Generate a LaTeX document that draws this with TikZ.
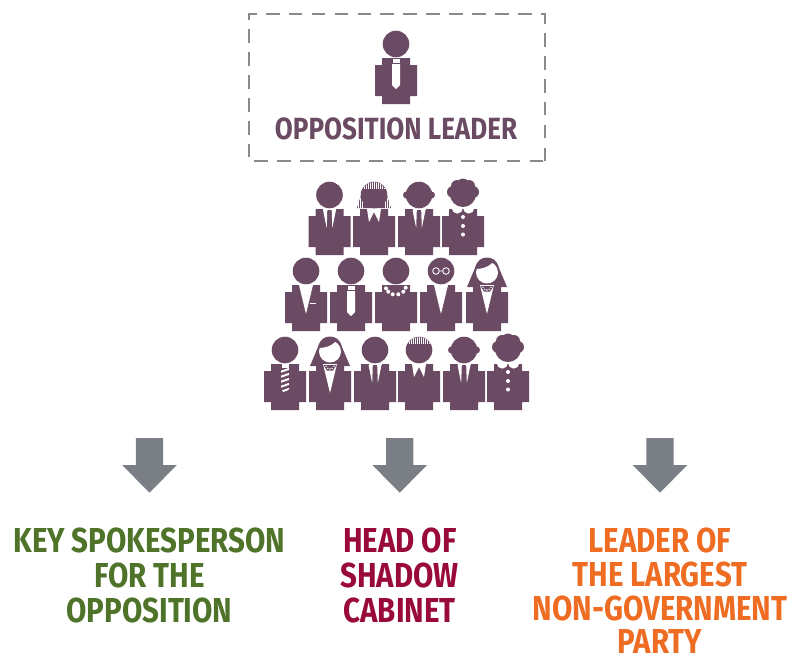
\documentclass[tikz,border=0pt]{standalone}
\usepackage{fontspec}
\newfontfamily\labfont[FakeStretch=0.85]{Fira Sans}
\definecolor{pp}{HTML}{6B4A63}
\definecolor{boxgray}{HTML}{8A8A8A}
\definecolor{arrowgray}{HTML}{7A7F85}
\definecolor{lgreen}{HTML}{4E7329}
\definecolor{lcrimson}{HTML}{990A3B}
\definecolor{lorange}{HTML}{EF6C23}
\tikzset{
  x=0.75pt,y=-0.75pt,
  lab/.style={inner sep=0,align=center,font=\labfont\bfseries\fontsize{26}{26}\selectfont},
  downarrow/.style={fill=arrowgray},
  torso/.pic={\fill[pp] (-14,14) -- (14,14) -- (14,21) -- (21,21) -- (21,52) -- (14,52) -- (14,60) -- (-14,60) -- (-14,52) -- (-21,52) -- (-21,21) -- (-14,21) -- cycle;},
  headc/.pic={\fill[pp] (0,0) circle (13.3);},
  ears/.pic={\fill[pp] (-12.5,0) circle (3.5) (12.5,0) circle (3.5);},
  plaintie/.pic={
    \fill[white] (-3.5,14.5) rectangle (3.5,19);
    \fill[white] (-4,20) -- (4,20) -- (4,41) -- (0,45) -- (-4,41) -- cycle;},
  stripetie/.pic={
    \fill[white] (-3.5,14) rectangle (3.5,17.5);
    \begin{scope}
      \clip (-4,18) -- (4,18) -- (4,39) -- (0,44) -- (-4,39) -- cycle;
      \foreach \yy in {21,26,...,46}{\fill[white] (-5,\yy) -- (5,\yy-3.5) -- (5,\yy-1.4) -- (-5,\yy+2.1) -- cycle;}
    \end{scope}},
  thintie/.pic={
    \fill[white] (-6.5,14) rectangle (6.5,15.3);
    \fill[white] (-6.5,15) -- (-2.2,15) -- (-2.8,33) -- cycle;
    \fill[white] (6.5,15) -- (2.2,15) -- (2.8,33) -- cycle;},
  openv/.pic={\fill[white] (-7,14) -- (7,14) -- (0,43) -- cycle;},
  shortv/.pic={\fill[white] (-7,14) -- (7,14) -- (5,27) -- (0,17) -- (-5,27) -- cycle;},
  capstripes/.pic={
    \begin{scope}
      \clip (0,0) circle (13);
      \foreach \xx in {-10,-8,...,10}{\fill[white] (\xx-0.45,-14) rectangle (\xx+0.45,-6.5);}
    \end{scope}},
  sidehair/.pic={
    \fill[pp] (-17,13) -- (-12.5,-1) -- (12.5,-1) -- (17,13) -- cycle;
    \foreach \xx in {-15.5,-13.5,-11.5,11.5,13.5,15.5}{\fill[white] (\xx-0.45,3) rectangle (\xx+0.45,13);}},
  curly/.pic={
    \fill[white] (-5.7,13) circle (5.6) (5.7,13) circle (5.6);
    \fill[pp] (0,-1) circle (13) (-10,-3) circle (6) (10,-3) circle (6) (0,-10) circle (6.5) (-6,-9) circle (6) (6,-9) circle (6);
    \fill[white] (0,22) circle (2) (0,31) circle (2) (0,39.5) circle (2);},
  ladyhair/.pic={
    \fill[pp] (-20,16) -- (-12,-3) .. controls (-10,-11) and (-5,-13.5) .. (0,-13.5) .. controls (5,-13.5) and (10,-11) .. (12,-3) -- (20,16) -- cycle;
    \begin{scope}
      \clip (0,1.5) circle (11);
      \fill[white] (-12,-2) .. controls (-2,-2) and (5,-6) .. (7,-11) -- (13,-11) -- (13,14) -- (-12,14) -- cycle;
    \end{scope}
    \fill[white] (-7,14) -- (7,14) -- (0,43) -- cycle;
    \fill[pp] (-6.5,15) -- (6.5,15) -- (3,20.5) -- (-3,20.5) -- cycle;
    \fill[white] (-4,16.3) circle (0.8) (-2.2,18.3) circle (0.8) (0,19) circle (0.8) (2.2,18.3) circle (0.8) (4,16.3) circle (0.8);},
  % complete figures
  fthin/.pic={\pic{torso};\pic{headc};\pic{thintie};},
  fthinears/.pic={\pic{torso};\pic{headc};\pic{ears};\pic{thintie};},
  fcurly/.pic={\pic{torso};\pic{curly};},
  flady/.pic={\pic{torso};\pic{ladyhair};},
  ftie/.pic={\pic{torso};\pic{headc};\pic{plaintie};},
}
\begin{document}
\begin{tikzpicture}
\useasboundingbox (0,0) rectangle (790,658);
% opposition leader
\draw[boxgray,line width=1.75pt,dash pattern=on 10.3pt off 6.9pt] (544.7,161.3) -- (544.7,13.7) -- (249,13.7) -- (249,161.3) -- cycle;
\pic at (396,44) {ftie};
\node[lab,text=pp,font=\labfont\bfseries\fontsize{23}{24}\selectfont,anchor=base] (leader) at (396,139) {OPPOSITION LEADER};
% row 1
\pic at (329.5,195) {fthin};
\pic at (374,195) {torso};
\pic at (374,195) {sidehair};
\pic at (374,195) {headc};
\pic at (374,195) {capstripes};
\pic at (374,195) {shortv};
\pic at (419,195) {fthinears};
\pic at (463,195) {fcurly};
% row 2
\pic at (306,271) {torso};
\pic at (306,271) {headc};
\pic at (306,271) {openv};
\fill[white] (310,302.7) rectangle (316,304.4);
\pic at (351,271) {ftie};
\pic at (396,271) {torso};
\pic at (396,271) {headc};
\fill[white] (386,288.3) circle (2) (388.3,291.7) circle (2) (392.7,294.3) circle (2) (398.3,294.3) circle (2) (403.3,291.7) circle (2) (405.7,287.7) circle (2);
\pic at (441,271) {torso};
\pic at (441,271) {headc};
\pic at (441,271) {openv};
\draw[white,line width=0.65pt] (436,271) circle (3.3) (446,271) circle (3.3) (439.3,271) -- (442.7,271);
\pic at (487,271) {flady};
% row 3
\pic at (285,350) {torso};
\pic at (285,350) {headc};
\pic at (285,350) {stripetie};
\pic at (330,350) {flady};
\pic at (375,350) {fthin};
\pic at (419,350) {torso};
\pic at (419,350) {headc};
\pic at (419,350) {capstripes};
\pic at (419,350) {shortv};
\pic at (464,350) {fthinears};
\pic at (508,350) {fcurly};
% arrows
\foreach \c in {149.5,399.7,660}{
  \fill[downarrow] (\c-13.7,438) -- (\c+13.7,438) -- (\c+13.7,465) -- (\c+27.3,465) -- (\c,492.7) -- (\c-27.3,465) -- (\c-13.7,465) -- cycle;
}
% labels
\node[lab,text=lgreen,anchor=north] (spokes) at (149.5,528) {KEY SPOKESPERSON\\FOR THE\\OPPOSITION};
\node[lab,text=lcrimson,anchor=north] (shadow) at (399.7,528) {HEAD OF\\SHADOW\\CABINET};
\node[lab,text=lorange,anchor=north,font=\labfont\bfseries\fontsize{26}{25.4}\selectfont] (party) at (660,527.5) {LEADER OF\\THE LARGEST\\NON-GOVERNMENT\\PARTY};
\end{tikzpicture}
\end{document}
